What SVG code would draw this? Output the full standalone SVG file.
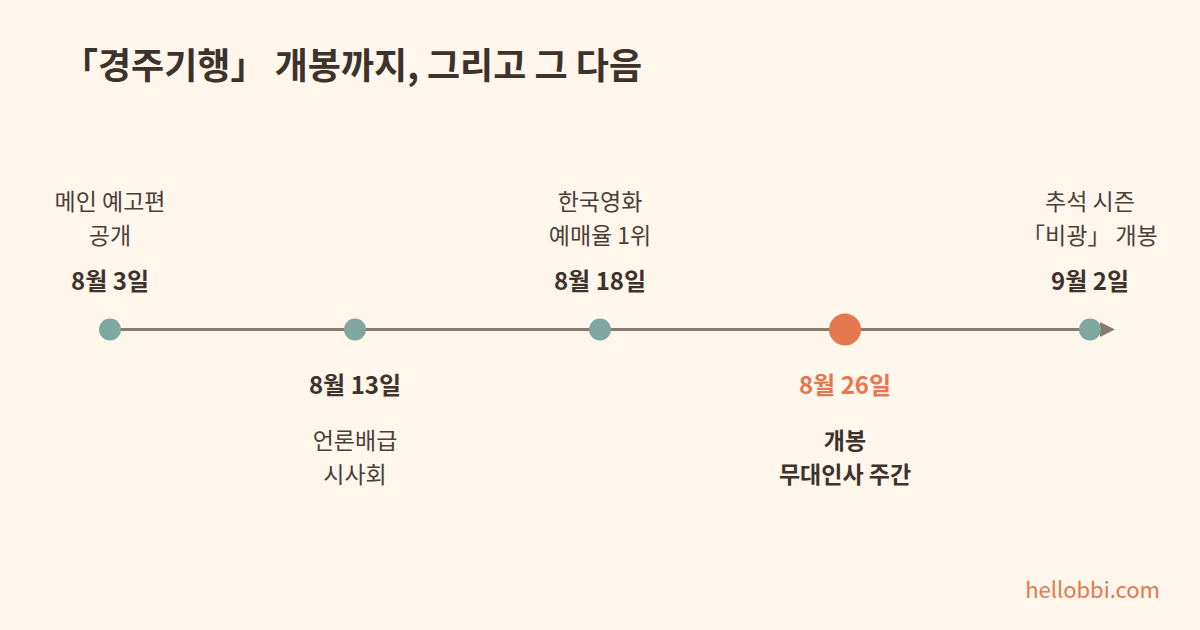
<svg xmlns="http://www.w3.org/2000/svg" width="1200" height="630" viewBox="0 0 1200 630">
<defs>
<style>
text{font-family:"Noto Sans CJK KR","Noto Sans",sans-serif;fill:#3D332C;text-anchor:middle}
.title{font-size:36px;font-weight:700;text-anchor:start}
.lbl{font-size:23px;fill:#4A403A}
.date{font-size:24px;font-weight:700}
.hl{fill:#E5784F}
.blbl{font-size:23px;font-weight:700}
.dot{fill:#7FA8A0}
</style>
<marker id="arr" viewBox="0 0 10 10" refX="0" refY="5" markerWidth="5" markerHeight="5" orient="auto" markerUnits="strokeWidth"><path d="M0,0 L10,5 L0,10 z" fill="#8B7B6E"/></marker>
</defs>
<rect width="1200" height="630" fill="#FFF6EC"/>
<text class="title" x="62" y="79">「경주기행」 개봉까지, 그리고 그 다음</text>
<g id="connectors">
<line x1="110" y1="329.5" x2="1100" y2="329.5" stroke="#8B7B6E" stroke-width="3" marker-end="url(#arr)"/>
</g>
<g id="n1">
<circle class="dot" cx="110" cy="329.5" r="11"/>
<text class="lbl" x="110" y="210">메인 예고편</text>
<text class="lbl" x="110" y="244">공개</text>
<text class="date" x="110" y="290">8월 3일</text>
</g>
<g id="n2">
<circle class="dot" cx="355" cy="329.5" r="11"/>
<text class="date" x="355" y="394">8월 13일</text>
<text class="lbl" x="355" y="449">언론배급</text>
<text class="lbl" x="355" y="483">시사회</text>
</g>
<g id="n3">
<circle class="dot" cx="600" cy="329.5" r="11"/>
<text class="lbl" x="600" y="210">한국영화</text>
<text class="lbl" x="600" y="244">예매율 1위</text>
<text class="date" x="600" y="290">8월 18일</text>
</g>
<g id="n4">
<circle cx="845" cy="329.5" r="16" fill="#E5784F"/>
<text class="date hl" x="845" y="394">8월 26일</text>
<text class="blbl" x="845" y="449">개봉</text>
<text class="blbl" x="845" y="483">무대인사 주간</text>
</g>
<g id="n5">
<circle class="dot" cx="1090" cy="329.5" r="11"/>
<text class="lbl" x="1090" y="210">추석 시즌</text>
<text class="lbl" x="1090" y="244">「비광」 개봉</text>
<text class="date" x="1090" y="290">9월 2일</text>
</g>
<text x="1160" y="598" style="font-size:22px;fill:#E5784F;text-anchor:end">hellobbi.com</text>
</svg>
